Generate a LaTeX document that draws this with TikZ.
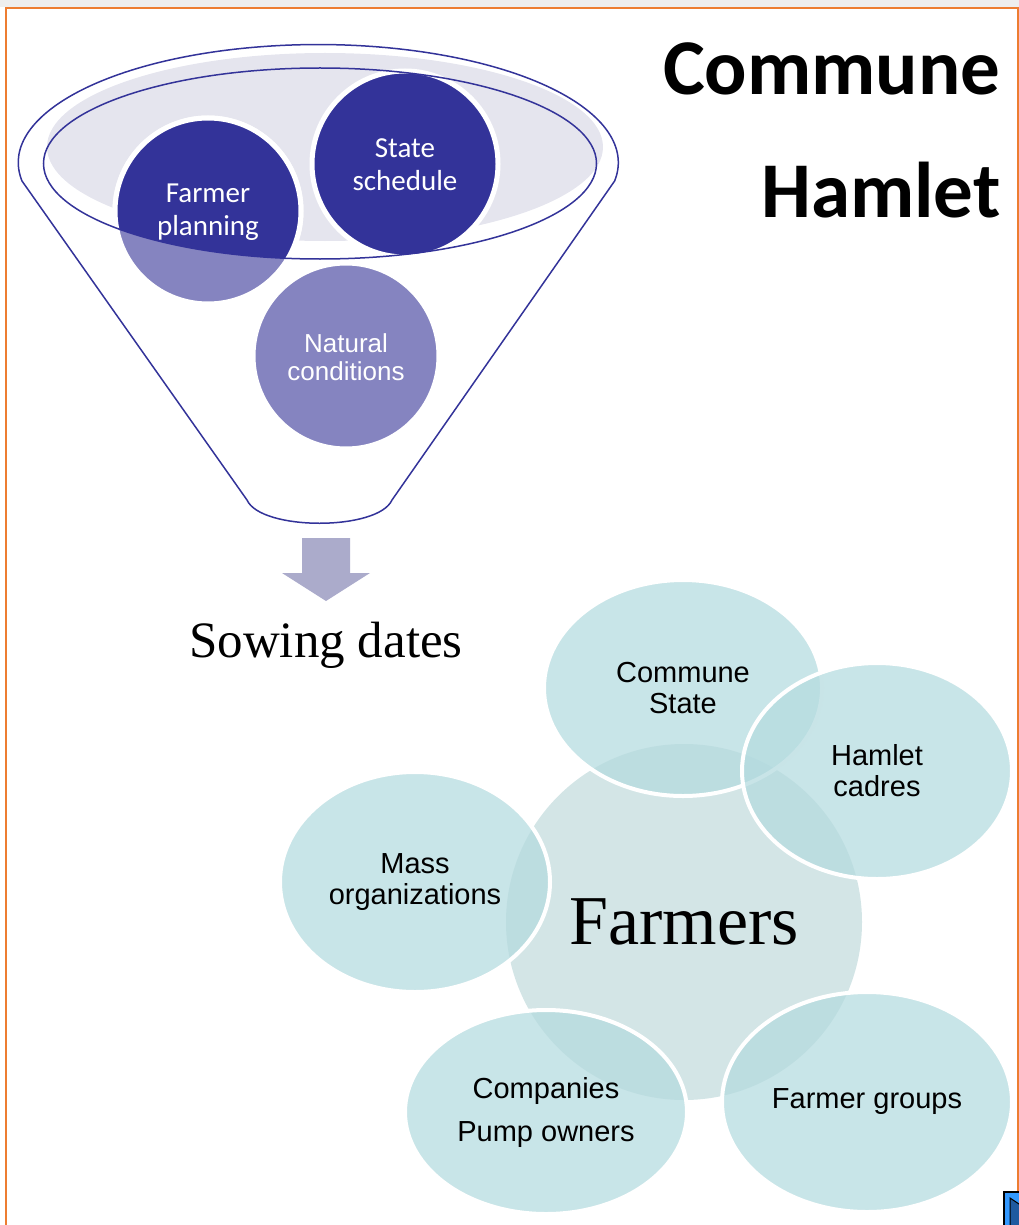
\documentclass[tikz,border=0pt]{standalone}
\usepackage{fontspec}
\usepackage{tikz}
\usetikzlibrary{shapes.geometric}
\newfontfamily\calfont{Carlito}
\newfontfamily\arialfont{Liberation Sans}
\newfontfamily\timesfont{Liberation Serif}
\definecolor{funnelblue}{RGB}{51,51,153}
\definecolor{lightv}{RGB}{133,132,192}
\definecolor{rimgray}{RGB}{229,229,238}
\definecolor{arrowgray}{RGB}{171,171,203}
\definecolor{farmteal}{RGB}{211,229,230}
\definecolor{petalteal}{RGB}{180,219,223}
\definecolor{frameorange}{RGB}{237,125,49}
\definecolor{framegray}{RGB}{238,238,238}
\definecolor{iconblue}{RGB}{51,153,255}
\definecolor{icondark}{RGB}{31,90,160}

\begin{document}
\begin{tikzpicture}[x=1pt,y=-1pt,
    petal/.style={ellipse, draw=white, line width=4pt, fill=petalteal,
      fill opacity=0.73, draw opacity=1, text opacity=1, inner sep=0pt,
      align=center, font=\arialfont\fontsize{29}{31}\selectfont},
    funtext/.style={text=white, align=center,
      font=\calfont\fontsize{29}{33}\selectfont},
    ball/.style={draw=white, line width=5pt}]
    \useasboundingbox (0,0) rectangle (1019,1225);
    % Draw the frame
    \fill[framegray] (0,0) rectangle (1019,7);
    \draw[frameorange, line width=2.3pt] (6,1225) -- (6,8) -- (1018,8) -- (1018,1192);
    % Draw the title
    \node[anchor=base east, font=\calfont\bfseries\fontsize{79}{95}\selectfont] (commune) at (1004,95) {Commune};
    \node[anchor=base east, font=\calfont\bfseries\fontsize{79}{95}\selectfont] (hamlet) at (1004,217) {Hamlet};
    % Draw the funnel
    \fill[rimgray] (325,147) ellipse [x radius=278pt, y radius=94pt];
    \draw[funnelblue, line width=1.5pt] (22,181)
      arc [start angle=189, end angle=-9, x radius=300pt, y radius=118pt]
      -- (392,500) .. controls (378,531) and (261,531) .. (247,500) -- cycle;
    % Draw the circles
    \filldraw[ball, fill=lightv] (208,211) circle (93pt);
    \filldraw[ball, fill=lightv] (346,356) circle (93pt);
    \begin{scope}
      \clip (320,163.5) ellipse [x radius=276.5pt, y radius=95.5pt];
      \filldraw[ball, fill=funnelblue] (208,211) circle (93pt);
    \end{scope}
    \filldraw[ball, fill=funnelblue] (405,164) circle (93pt);
    % Draw the inner rim
    \draw[funnelblue, line width=1.5pt] (320,163.5) ellipse [x radius=276.5pt, y radius=95.5pt];
    % Label the circles
    \node[funtext] (plan) at (208,212) {Farmer\\planning};
    \node[funtext] (sched) at (405,165) {State\\schedule};
    \node[funtext, font=\arialfont\fontsize{26}{28}\selectfont] (nat) at (346,357) {Natural\\conditions};
    % Draw the arrow
    \fill[arrowgray] (302,538) -- (350,538) -- (350,573) -- (370,573)
      -- (326,601) -- (282,573) -- (302,573) -- cycle;
    \node[anchor=base, font=\timesfont\fontsize{51}{60}\selectfont] (sow) at (326,657) {Sowing dates};
    % Draw the radial groups
    \node[circle, fill=farmteal, minimum size=356pt, inner sep=0pt,
      font=\timesfont\fontsize{70}{80}\selectfont] (farmers) at (684,922) {Farmers};
    \node[petal, minimum width=278pt, minimum height=216pt] (cstate) at (683,688) {Commune\\State};
    \node[petal, minimum width=270pt, minimum height=216pt] (hcadres) at (877,771) {Hamlet\\cadres};
    \node[petal, minimum width=290pt, minimum height=220pt] (fgroups) at (867,1102) {Farmer groups};
    \node[petal, minimum width=282pt, minimum height=204pt] (cpump) at (546,1112) {Companies\\[12pt]Pump owners};
    \node[petal, minimum width=270pt, minimum height=220pt] (massorg) at (415,882) {Mass\\organizations};
    % Draw the corner icon
    \begin{scope}
      \clip (0,0) rectangle (1019,1225);
      \filldraw[fill=iconblue, draw=black, line width=1.5pt] (1004,1192) rectangle (1030,1235);
      \filldraw[fill=icondark, draw=black, line width=1pt] (1010,1198) -- (1025,1208) -- (1025,1235) -- (1010,1235) -- cycle;
    \end{scope}
\end{tikzpicture}
\end{document}
